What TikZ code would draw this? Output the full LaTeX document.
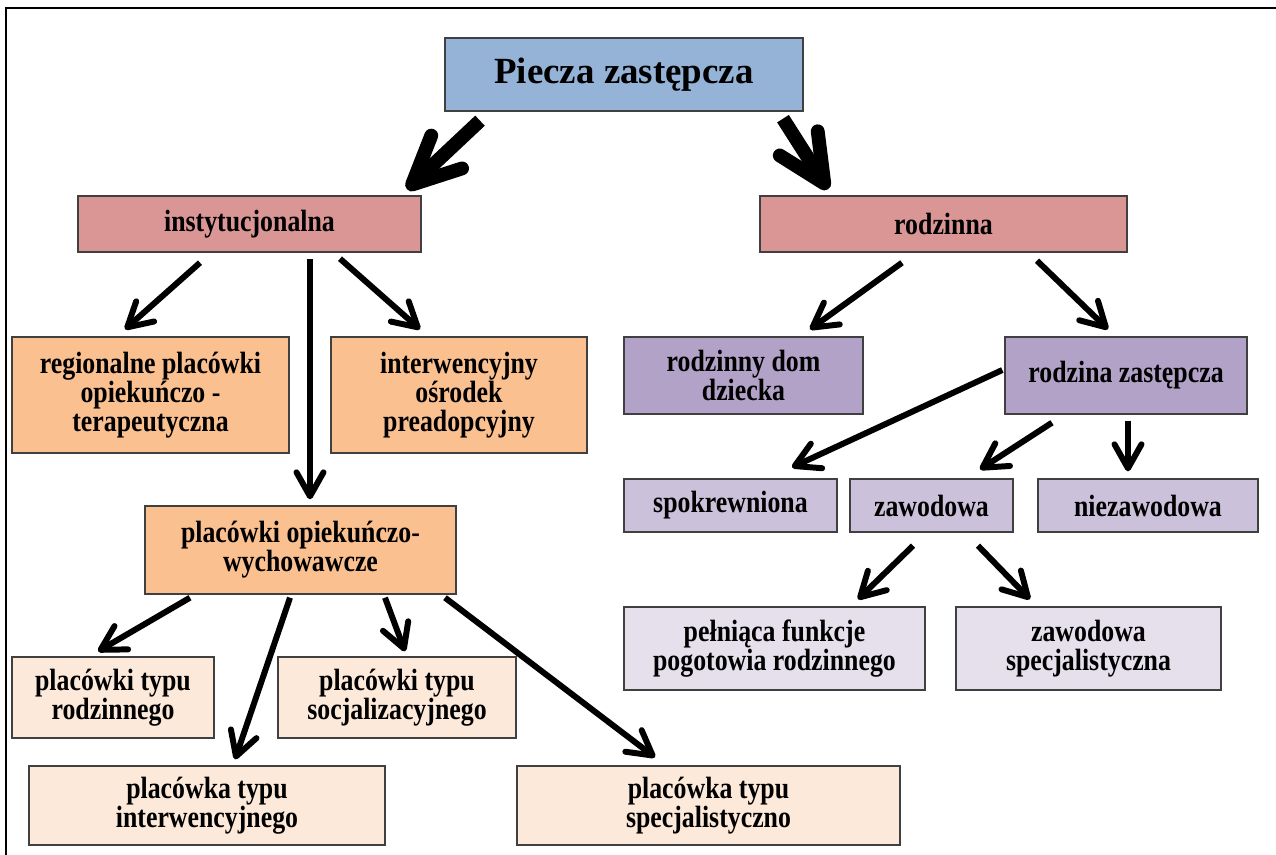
\documentclass[tikz,border=0pt]{standalone}
\usepackage{fontspec}
\setmainfont{Liberation Serif}
\newfontfamily\boxfont[FakeStretch=0.84]{Liberation Serif}
\usetikzlibrary{arrows.meta}
\definecolor{boxline}{RGB}{64,64,64}
\definecolor{blu}{RGB}{149,179,215}
\definecolor{rose}{RGB}{217,150,148}
\definecolor{orng}{RGB}{250,192,144}
\definecolor{peach}{RGB}{253,233,217}
\definecolor{purp}{RGB}{179,162,199}
\definecolor{lav}{RGB}{204,193,218}
\definecolor{lilac}{RGB}{230,224,236}

\begin{document}
\begin{tikzpicture}[x=0.02cm,y=-0.02cm,
  box/.style={draw=boxline,line width=0.8pt,inner sep=0pt,align=center,
    font=\boxfont\bfseries\fontsize{17.5}{16.5}\selectfont},
  sz/.style 2 args={minimum width=#1cm,minimum height=#2cm},
  arr/.style={line width=3.4pt,-{Straight Barb[length=0.48cm,width=0.54cm,round]}},
  bigarr/.style={line width=7.9pt,-{Straight Barb[length=0.95cm,width=0.9cm,round]}}]
  \useasboundingbox (0,0) rectangle (1276,855);
  \draw[line width=1.3pt] (6,855) -- (6,8) -- (1276,8);
  % top
  \node[box,sz={7.16}{1.46},fill=blu,font=\bfseries\fontsize{21}{24}\selectfont] (T) at (624,74.5) {Piecza zastępcza};
  \node[box,sz={6.86}{1.12},fill=rose] (I) at (249.5,224) {instytucjonalna};
  \node[box,sz={7.34}{1.12},fill=rose] (R) at (943.5,224) {rodzinna};
  % instytucjonalna
  \node[box,sz={5.54}{2.32},fill=orng] (I1) at (150.5,395) {regionalne placówki\\opiekuńczo -\\terapeutyczna};
  \node[box,sz={5.12}{2.32},fill=orng] (I2) at (459,395) {interwencyjny\\ośrodek\\preadopcyjny};
  \node[box,sz={6.22}{1.76},fill=orng] (I3) at (300.5,550) {placówki opiekuńczo-\\wychowawcze};
  \node[box,sz={4.04}{1.62},fill=peach] (P1) at (113,697.5) {placówki typu\\rodzinnego};
  \node[box,sz={4.76}{1.62},fill=peach] (P2) at (397,697.5) {placówki typu\\socjalizacyjnego};
  \node[box,sz={7.12}{1.58},fill=peach] (P3) at (207,805.5) {placówka typu\\interwencyjnego};
  \node[box,sz={7.66}{1.58},fill=peach] (P4) at (708.5,805.5) {placówka typu\\specjalistyczno};
  % rodzinna
  \node[box,sz={4.78}{1.54},fill=purp] (R1) at (743.5,375.5) {rodzinny dom\\dziecka};
  \node[box,sz={4.84}{1.54},fill=purp] (R2) at (1126,375.5) {rodzina zastępcza};
  \node[box,sz={4.26}{1.06},fill=lav] (F1) at (730.5,505.5) {spokrewniona};
  \node[box,sz={3.26}{1.06},fill=lav] (F2) at (931.5,505.5) {zawodowa};
  \node[box,sz={4.40}{1.06},fill=lav] (F3) at (1148,505.5) {niezawodowa};
  \node[box,sz={6.02}{1.66},fill=lilac] (Z1) at (774.5,648.5) {pełniąca funkcje\\pogotowia rodzinnego};
  \node[box,sz={5.30}{1.66},fill=lilac] (Z2) at (1088.5,648.5) {zawodowa\\specjalistyczna};
  % arrows
  \draw[bigarr] ([shift={(-144,9)}]T.south) -- ([shift={(157.5,-6)}]I.north);
  \draw[bigarr] ([shift={(159,7)}]T.south) -- ([shift={(-115.5,-6)}]R.north);
  \draw[arr] ([shift={(-49.5,10)}]I.south) -- ([shift={(-25.5,-7)}]I1.north);
  \draw[arr] ([shift={(60.5,6)}]I.south) -- ([shift={(9.5,-6)}]I3.north);
  \draw[arr] ([shift={(90.5,6)}]I.south) -- ([shift={(-39,-7)}]I2.north);
  \draw[arr] ([shift={(-41.5,10)}]R.south) -- ([shift={(66.5,-7)}]R1.north);
  \draw[arr] ([shift={(93.5,8)}]R.south) -- ([shift={(-18,-7)}]R2.north);
  \draw[arr] ([shift={(-2,-5.5)}]R2.west) -- ([shift={(61.5,-11)}]F1.north);
  \draw[arr] ([shift={(-74,8)}]R2.south) -- ([shift={(48.5,-9)}]F2.north);
  \draw[arr] ([shift={(2,6)}]R2.south) -- ([shift={(-20,-7)}]F3.north);
  \draw[arr] ([shift={(-18.5,13)}]F2.south) -- ([shift={(83.5,-7)}]Z1.north);
  \draw[arr] ([shift={(46.5,13)}]F2.south) -- ([shift={(-58.5,-7)}]Z2.north);
  \draw[arr] ([shift={(-110.5,3)}]I3.south) -- ([shift={(-15,-5)}]P1.north);
  \draw[arr] ([shift={(-10.5,3)}]I3.south) -- ([shift={(28,-6)}]P3.north);
  \draw[arr] ([shift={(84.5,3)}]I3.south) -- ([shift={(8,-5)}]P2.north);
  \draw[arr] ([shift={(144.5,3)}]I3.south) -- ([shift={(-53.5,-8)}]P4.north);
\end{tikzpicture}
\end{document}
